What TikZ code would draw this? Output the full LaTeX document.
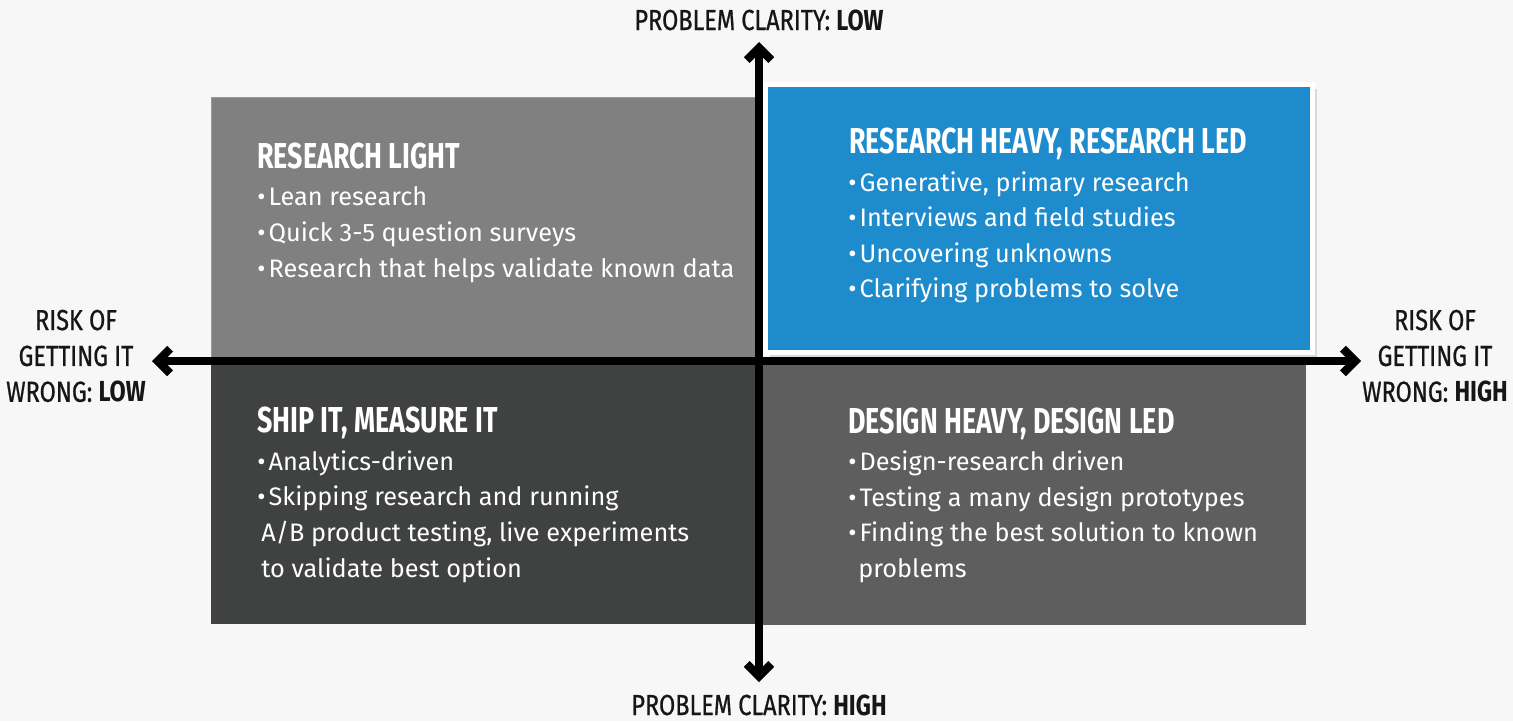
\documentclass[tikz,border=0pt]{standalone}
\usepackage{fontspec}
\setmainfont{Fira Sans}
\newfontfamily\narrowfont[FakeStretch=0.745]{Fira Sans}
\newfontfamily\axisfont[FakeStretch=0.81, UprightFeatures={FakeBold=0.7}]{Fira Sans}
\usetikzlibrary{positioning,arrows.meta,shadows}
\definecolor{canvas}{RGB}{247,247,247}
\definecolor{lightq}{RGB}{128,128,128}
\definecolor{darkq}{RGB}{64,66,65}
\definecolor{midq}{RGB}{94,94,94}
\definecolor{blueq}{RGB}{30,139,205}
\definecolor{ink}{RGB}{22,22,22}
\newcommand{\pxu}{0.02cm}
\newcommand{\bul}{•\hspace{0.12em}}
\tikzset{
    quad/.style = {
        shape=rectangle,
        anchor=north west,
        inner sep=0pt,
        outer sep=0pt
    },
    heading/.style = {
        anchor=base west,
        inner sep=0pt,
        text=white,
        font=\narrowfont\bfseries\fontsize{20.5}{24}\selectfont
    },
    item/.style = {
        anchor=base west,
        inner sep=0pt,
        text=white,
        font=\fontsize{14.4}{17}\selectfont
    },
    axislabel/.style = {
        inner sep=0pt,
        text=ink,
        font=\axisfont\fontsize{16.5}{20.4}\selectfont
    },
    axis/.style = {
        draw=black,
        line width=4.7pt,
        line join=miter,
        {Straight Barb[length=7pt,width=14pt]}-{Straight Barb[length=7pt,width=14pt]}
    },
}

\begin{document}
\begin{tikzpicture}[x=\pxu, y=-\pxu]
        \fill[canvas] (0,0) rectangle (1513,721);

        \node[quad, fill=lightq, draw=lightq!80!white, line width=0.4pt, minimum width=548*\pxu, minimum height=264*\pxu] (light) at (211,97) {};
        \node[quad, fill=darkq, minimum width=548*\pxu, minimum height=263*\pxu] (ship) at (211,361) {};
        \node[quad, fill=midq, minimum width=547*\pxu, minimum height=264*\pxu] (design) at (759,361) {};
        \node[quad, fill=blueq, draw=white, line width=5*\pxu, minimum width=547*\pxu, minimum height=268*\pxu,
              drop shadow={opacity=0.25, shadow xshift=2.5pt, shadow yshift=-2.5pt}] (heavy) at (765.5,84.5) {};

        \node[heading] (lighthead) at (257,168) {RESEARCH LIGHT};
        \node[item] (light1) at (257,205) {\bul Lean research};
        \node[item] (light2) at (257,241) {\bul Quick 3-5 question surveys};
        \node[item] (light3) at (257,277) {\bul Research that helps validate known data};

        \node[heading] (heavyhead) at (849,153) {RESEARCH HEAVY, RESEARCH LED};
        \node[item] (heavy1) at (848,191) {\bul Generative, primary research};
        \node[item] (heavy2) at (848,226) {\bul Interviews and field studies};
        \node[item] (heavy3) at (848,262) {\bul Uncovering unknowns};
        \node[item] (heavy4) at (848,297) {\bul Clarifying problems to solve};

        \node[heading] (shiphead) at (257,432) {SHIP IT, MEASURE IT};
        \node[item] (ship1) at (257,470) {\bul Analytics-driven};
        \node[item] (ship2) at (257,505) {\bul Skipping research and running};
        \node[item] (ship3) at (261,541) {A/B product testing, live experiments};
        \node[item] (ship4) at (261,577) {to validate best option};

        \node[heading] (designhead) at (848,433) {DESIGN HEAVY, DESIGN LED};
        \node[item] (design1) at (848,470) {\bul Design-research driven};
        \node[item] (design2) at (848,506) {\bul Testing a many design prototypes};
        \node[item] (design3) at (848,541) {\bul Finding the best solution to known};
        \node[item] (design4) at (858,577) {problems};

        \node[axislabel, anchor=base] (lowclarity) at (759,30) {PROBLEM CLARITY: \textbf{LOW}};
        \node[axislabel, anchor=base] (highclarity) at (759,715) {PROBLEM CLARITY: \textbf{HIGH}};
        \node[axislabel, align=center] (lowrisk) at (76,356) {RISK OF\\GETTING IT\\WRONG: \textbf{LOW}};
        \node[axislabel, align=center] (highrisk) at (1435,356) {RISK OF\\GETTING IT\\WRONG: \textbf{HIGH}};

        \coordinate (ytop) at (759,42);
        \coordinate (ybot) at (759,682);
        \coordinate (xleft) at (152,361);
        \coordinate (xright) at (1361,361);

        \path[axis] (ybot) -- (ytop);
        \path[axis] (xleft) -- (xright);
\end{tikzpicture}
\end{document}
